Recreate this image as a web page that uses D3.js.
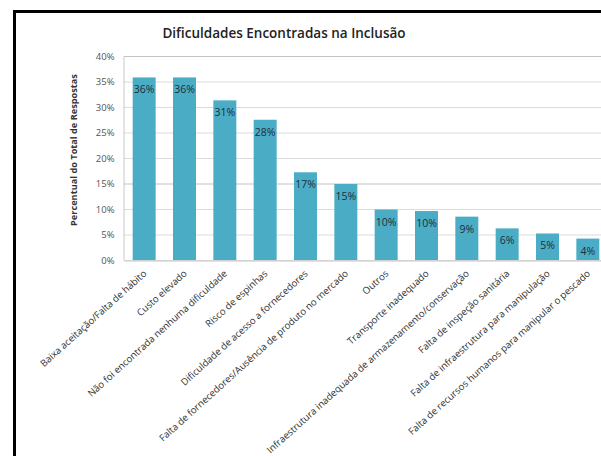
<!DOCTYPE html>
<html>
<head>
<meta charset="utf-8">
<script src="https://cdn.jsdelivr.net/npm/d3@7"></script>
<style>
  body { margin: 0; background: #fff; }
  text { font-family: "Open Sans", "Liberation Sans", sans-serif; }
</style>
</head>
<body>
<div id="chart"></div>
<script>
// Chart data
const categories = [
    "Baixa aceitação/Falta de hábito",
    "Custo elevado",
    "Não foi encontrada nenhuma dificuldade",
    "Risco de espinhas",
    "Dificuldade de acesso a fornecedores",
    "Falta de fornecedores/Ausência de produto no mercado",
    "Outros",
    "Transporte inadequado",
    "Infraestrutura inadequada de armazenamento/conservação",
    "Falta de inspeção sanitária",
    "Falta de infraestrutura para manipulação",
    "Falta de recursos humanos para manipular o pescado"
];
const values = [35.8, 35.8, 31.3, 27.5, 17.2, 14.9, 9.9, 9.6, 8.5, 6.2, 5.2, 4.2];
const yTicks = [0, 5, 10, 15, 20, 25, 30, 35, 40];

const width = 601, height = 456;
const plot = {left: 124, right: 608, top: 56, bottom: 260};

const svg = d3.select("#chart")
    .append("svg")
    .attr("width", width)
    .attr("height", height);

svg.append("rect")
    .attr("width", width)
    .attr("height", height)
    .attr("fill", "#fff");

// black frame (runs off the right and bottom edges)
svg.append("rect")
    .attr("x", 14.5)
    .attr("y", 11.5)
    .attr("width", 620)
    .attr("height", 480)
    .attr("fill", "none")
    .attr("stroke", "#000")
    .attr("stroke-width", 3);

// Title
svg.append("text")
    .attr("x", 284)
    .attr("y", 38)
    .attr("text-anchor", "middle")
    .attr("font-size", 13.5)
    .attr("font-weight", 600)
    .attr("fill", "#222")
    .text("Dificuldades Encontradas na Inclusão");

const x = d3.scaleBand()
    .domain(categories)
    .range([plot.left, plot.right])
    .paddingInner(0.43)
    .paddingOuter(0.215);

const y = d3.scaleLinear()
    .domain([0, 40])
    .range([plot.bottom, plot.top]);

// gridlines
svg.append("g")
    .selectAll("line")
    .data(yTicks)
    .enter()
    .append("line")
    .attr("x1", plot.left)
    .attr("x2", plot.right)
    .attr("y1", d => y(d) + 0.5)
    .attr("y2", d => y(d) + 0.5)
    .attr("stroke", d => d === 15 || d === 40 ? "#c4c4c4" : "#dcdcdc")
    .attr("stroke-width", 1.2);

// y axis
const yAxis = svg.append("g")
    .attr("transform", `translate(${plot.left - 0.5},0)`)
    .call(d3.axisLeft(y).tickValues(yTicks).tickSize(0).tickPadding(9).tickFormat(d => d + "%"));
yAxis.select(".domain").attr("stroke", "#c8c8c8");
yAxis.selectAll("text")
    .attr("font-size", 9.5)
    .attr("fill", "#555")
    .attr("font-family", "Open Sans, sans-serif");

svg.append("text")
    .attr("transform", "translate(77,150) rotate(-90)")
    .attr("text-anchor", "middle")
    .attr("font-size", 9.2)
    .attr("font-weight", "bold")
    .attr("fill", "#333")
    .text("Percentual do Total de Respostas");

// bars
svg.selectAll(".bar")
    .data(values)
    .enter()
    .append("rect")
    .attr("class", "bar")
    .attr("x", (d, i) => x(categories[i]))
    .attr("y", d => y(d))
    .attr("width", x.bandwidth())
    .attr("height", d => y(0) - y(d))
    .attr("fill", "#4bacc6");

// value labels
svg.selectAll(".val")
    .data(values)
    .enter()
    .append("text")
    .attr("class", "val")
    .attr("x", (d, i) => x(categories[i]) + x.bandwidth() / 2)
    .attr("y", d => y(d) + 16)
    .attr("text-anchor", "middle")
    .attr("font-size", 10.5)
    .attr("fill", "#1d2f38")
    .text(d => Math.round(d) + "%");

// x axis
const xAxis = svg.append("g")
    .attr("transform", `translate(0,${plot.bottom + 0.5})`)
    .call(d3.axisBottom(x).tickSize(0).tickPadding(0));
xAxis.select(".domain").attr("stroke", "#c8c8c8");
xAxis.selectAll("text")
    .attr("font-size", 9.6)
    .attr("fill", "#333")
    .attr("font-family", "Open Sans, sans-serif")
    .attr("text-anchor", "end")
    .attr("dy", 0)
    .attr("transform", "translate(3,14) rotate(-42)");
</script>
</body>
</html>
